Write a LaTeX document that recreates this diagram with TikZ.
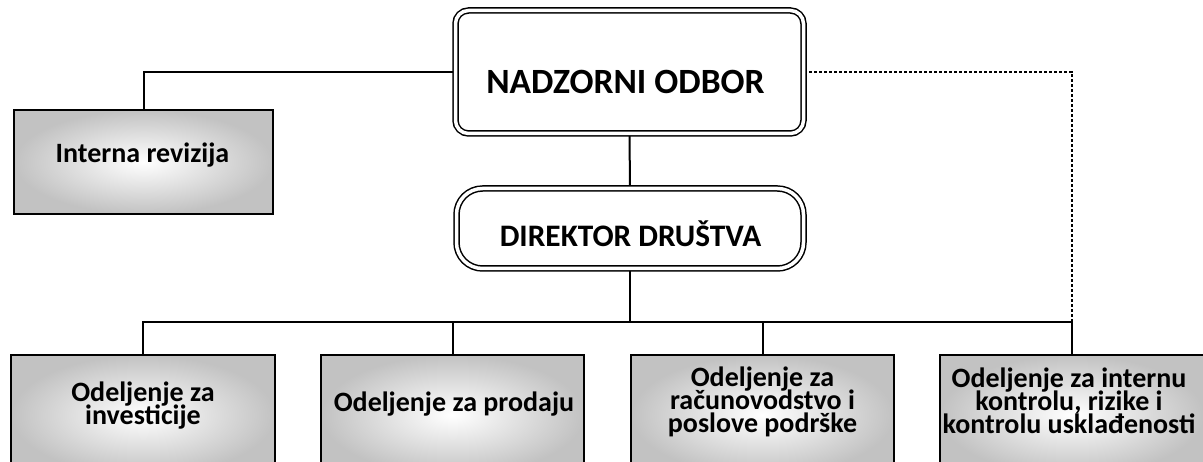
\documentclass[tikz,border=0pt]{standalone}
\usepackage{fontspec}
\setmainfont{Carlito}
\usetikzlibrary{backgrounds}
\newcommand{\tightlines}{\lineskiplimit=-40pt\relax}
\begin{document}
\begin{tikzpicture}[x=1pt,y=-1pt,
  dblbox/.style={draw, rectangle, line width=1.5pt, double, double distance=3.5pt, fill=white},
  gradbox/.style={draw, rectangle, line width=2pt, inner color=white, outer color=black!24},
  conn/.style={line width=2pt},
  dotconn/.style={line width=2.2pt, dash pattern=on 3pt off 2pt},
  bigtxt/.style={font=\bfseries\fontsize{35.5}{40}\selectfont, inner sep=0pt},
  midtxt/.style={font=\bfseries\fontsize{31.3}{36}\selectfont, inner sep=0pt},
  smalltxt/.style={font=\bfseries\fontsize{28}{23}\selectfont\tightlines, align=center, inner sep=0pt}]
\useasboundingbox (0,0) rectangle (1203,462);
\clip (0,0) rectangle (1203,462);
% boxes
\node[dblbox, rounded corners=13pt, minimum width=348pt, minimum height=123pt] (nad) at (629.5,72) {};
\node[dblbox, rounded corners=26pt, minimum width=347pt, minimum height=80pt] (dir) at (630,228.5) {};
\node[gradbox, minimum width=259pt, minimum height=104pt] (irev) at (143.5,162) {};
\node[gradbox, minimum width=264pt, minimum height=120pt] (b1) at (143,415) {};
\node[gradbox, minimum width=263pt, minimum height=120pt] (b2) at (452.5,415) {};
\node[gradbox, minimum width=263pt, minimum height=120pt] (b3) at (762.5,415) {};
\node[gradbox, minimum width=264pt, minimum height=120pt] (b4) at (1072,415) {};
\coordinate (j) at (630,322.5);
% texts
\node[bigtxt, anchor=base] (tnad) at (625.5,93.3) {NADZORNI ODBOR};
\node[midtxt, anchor=base] (tdir) at (630.5,246.7) {DIREKTOR DRUŠTVA};
\node[smalltxt, anchor=base] (tirev) at (142.5,163) {Interna revizija};
\node[smalltxt, anchor=base] (tb1) at (143,424.5) {Odeljenje za\\investicije};
\node[smalltxt, anchor=base] (tb2) at (454,411.7) {Odeljenje za prodaju};
\node[smalltxt, anchor=base] (tb3) at (762.5,432.7) {Odeljenje za\\računovodstvo i\\poslove podrške};
\node[smalltxt, anchor=base] (tb4) at (1069,433) {Odeljenje za internu\\kontrolu, rizike i\\kontrolu usklađenosti};
% connectors
\begin{scope}[on background layer]
\draw[conn] (nad.west) -| (irev.north);
\draw[conn] (nad.south) -- (dir.north);
\draw[conn] (dir.south) -- (j);
\draw[conn] (b1.north) |- (j) -| (b4.north);
\draw[conn] (b2.north) -- (b2.north |- j);
\draw[conn] (b3.north) -- (b3.north |- j);
\draw[dotconn] (nad.east) -| (b4.north |- j);
\end{scope}
\end{tikzpicture}
\end{document}
